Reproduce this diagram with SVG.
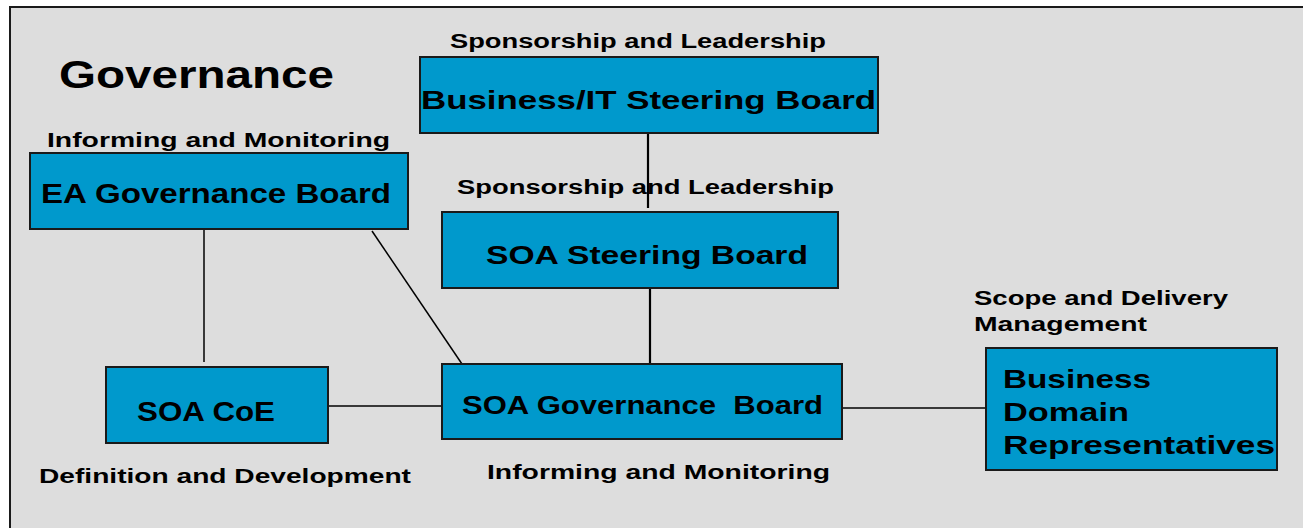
<svg xmlns="http://www.w3.org/2000/svg" width="1303" height="528" viewBox="0 0 1303 528">
<style>
.box{fill:#0099cc;stroke:#1a1a1a;stroke-width:2}
.t{font-family:"Liberation Sans",Arial,sans-serif;font-weight:bold;fill:#000}
.bt{font-size:26px}
.lb{font-size:20px}
.ln{stroke:#000;stroke-width:1.5;fill:none}
.lt{stroke:#000;stroke-width:2.2;fill:none}
</style>
<rect x="0" y="0" width="1303" height="528" fill="#ffffff"/>
<rect x="10" y="7" width="1293" height="521" fill="#dddddd"/>
<polyline points="10,528 10,7 1303,7" fill="none" stroke="#1a1a1a" stroke-width="2"/>
<text class="t" x="59" y="88" font-size="38" textLength="275" lengthAdjust="spacingAndGlyphs">Governance</text>
<g id="connectors">
<line class="lt" x1="648" y1="133" x2="648" y2="208"/>
<line class="lt" x1="650" y1="288" x2="650" y2="364"/>
<line class="ln" x1="204" y1="229" x2="204" y2="362"/>
<line class="ln" x1="372" y1="231" x2="462" y2="364"/>
<line class="ln" x1="328" y1="406" x2="442" y2="406"/>
<line class="ln" x1="842" y1="408" x2="986" y2="408"/>
</g>
<g id="business-it-steering-board">
<text class="t lb" x="450" y="48" textLength="376" lengthAdjust="spacingAndGlyphs">Sponsorship and Leadership</text>
<rect class="box" x="420" y="57" width="458" height="76"/>
<text class="t bt" x="421" y="109" textLength="455" lengthAdjust="spacingAndGlyphs">Business/IT Steering Board</text>
</g>
<g id="soa-steering-board">
<text class="t lb" x="457" y="194" textLength="377" lengthAdjust="spacingAndGlyphs">Sponsorship and Leadership</text>
<rect class="box" x="442" y="212" width="396" height="76"/>
<text class="t bt" x="486" y="264" textLength="322" lengthAdjust="spacingAndGlyphs">SOA Steering Board</text>
</g>
<g id="ea-governance-board">
<text class="t lb" x="47" y="147" textLength="343" lengthAdjust="spacingAndGlyphs">Informing and Monitoring</text>
<rect class="box" x="30" y="153" width="378" height="76"/>
<text class="t" font-size="27" x="41" y="203" textLength="350" lengthAdjust="spacingAndGlyphs">EA Governance Board</text>
</g>
<g id="soa-coe">
<rect class="box" x="106" y="367" width="222" height="76"/>
<text class="t" font-size="27" x="137" y="421" textLength="138" lengthAdjust="spacingAndGlyphs">SOA CoE</text>
<text class="t lb" x="39" y="483" textLength="372" lengthAdjust="spacingAndGlyphs">Definition and Development</text>
</g>
<g id="soa-governance-board">
<rect class="box" x="442" y="364" width="400" height="75"/>
<text class="t bt" x="462" y="414" textLength="361" lengthAdjust="spacingAndGlyphs" xml:space="preserve">SOA Governance  Board</text>
<text class="t lb" x="487" y="479" textLength="343" lengthAdjust="spacingAndGlyphs">Informing and Monitoring</text>
</g>
<g id="business-domain-representatives">
<text class="t lb" x="974" y="305" textLength="254" lengthAdjust="spacingAndGlyphs">Scope and Delivery</text>
<text class="t lb" x="974" y="331" textLength="173" lengthAdjust="spacingAndGlyphs">Management</text>
<rect class="box" x="986" y="348" width="291" height="122"/>
<text class="t bt" x="1003" y="388" textLength="148" lengthAdjust="spacingAndGlyphs">Business</text>
<text class="t bt" x="1003" y="421" textLength="126" lengthAdjust="spacingAndGlyphs">Domain</text>
<text class="t bt" x="1003" y="454" textLength="272" lengthAdjust="spacingAndGlyphs">Representatives</text>
</g>
</svg>
